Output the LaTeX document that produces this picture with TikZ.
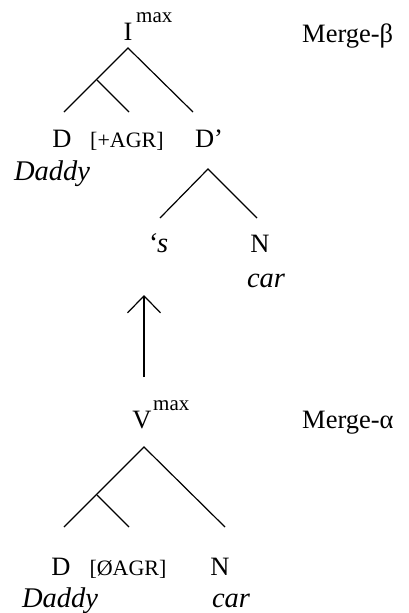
\documentclass[tikz,border=0pt]{standalone}
\usepackage{fontspec}
\setmainfont{Liberation Serif}
\usetikzlibrary{arrows.meta}
\begin{document}
\begin{tikzpicture}[x=1pt,y=-1pt,
  lab/.style={font=\fontsize{26.5}{30}\selectfont, inner sep=0pt, anchor=base},
  it/.style={font=\fontsize{28.5}{32}\selectfont\itshape, inner sep=0pt, anchor=base},
  sm/.style={font=\fontsize{22}{25}\selectfont, inner sep=0pt, anchor=base},
  sup/.style={font=\fontsize{21}{25}\selectfont, inner sep=0pt, anchor=base west},
  edge/.style={line width=1.2pt, line cap=butt}]
\useasboundingbox (0,0) rectangle (408,613);
% upper tree
\node[lab] (I) at (128,40) {I};
\node[sup] (Imax) at (136,22) {max};
\node[lab, anchor=base west] (mb) at (302,42) {Merge-β};
\coordinate (t1) at (128,48);
\coordinate (t1a) at (97,80);
\coordinate (t1L) at (64,112);
\coordinate (t1M) at (129,112);
\coordinate (t1R) at (193,112);
\draw[edge] (t1L) -- (t1) -- (t1R);
\draw[edge] (t1a) -- (t1M);
\node[lab] (D1) at (62,147) {D};
\node[sm] (agr1) at (127,147) {[+AGR]};
\node[lab] (Dp) at (209,147) {D’};
\node[it] (daddy1) at (52,180) {Daddy};
\coordinate (t2) at (208,169);
\coordinate (t2L) at (160,218);
\coordinate (t2R) at (257,218);
\draw[edge] (t2L) -- (t2) -- (t2R);
\node[it] (s) at (158,252) {‘s};
\node[lab] (N1) at (260,252) {N};
\node[it] (car1) at (266,287) {car};
% arrow
\coordinate (arrfrom) at (144,377);
\coordinate (arrto) at (144,295);
\draw[edge, -{Straight Barb[length=17pt,width=33pt,line width=1.2pt]}] (arrfrom) -- (arrto);
% lower tree
\node[lab] (V) at (142,428) {V};
\node[sup] (Vmax) at (153,410) {max};
\node[lab, anchor=base west] (ma) at (302,428) {Merge-α};
\coordinate (b1) at (144,447);
\coordinate (b1a) at (97,495);
\coordinate (b1L) at (64,527);
\coordinate (b1M) at (129,527);
\coordinate (b1R) at (225,527);
\draw[edge] (b1L) -- (b1) -- (b1R);
\draw[edge] (b1a) -- (b1M);
\node[lab] (D2) at (61,575) {D};
\node[sm] (agr2) at (128,575) {[ØAGR]};
\node[lab] (N2) at (220,575) {N};
\node[it] (daddy2) at (60,607) {Daddy};
\node[it] (car2) at (231,607) {car};
\end{tikzpicture}
\end{document}
